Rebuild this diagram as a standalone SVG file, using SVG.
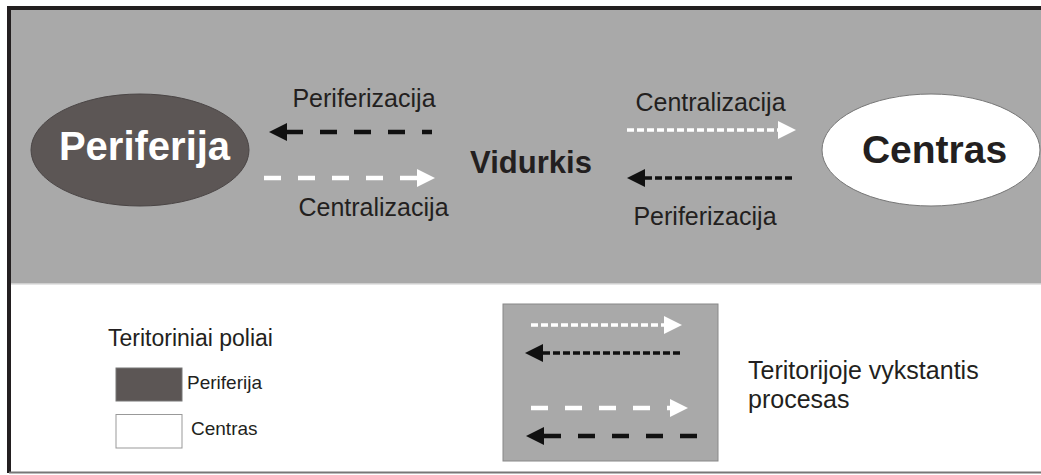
<svg xmlns="http://www.w3.org/2000/svg" width="1041" height="475" viewBox="0 0 1041 475">
<style>
.t{font-family:"Liberation Sans",Arial,sans-serif;fill:#231f20}
.b{font-weight:bold}
.ld{fill:none;stroke-width:4.5;stroke-dasharray:17 17}
.sd{fill:none;stroke-width:3.5;stroke-dasharray:7 3}
.k{stroke:#111}
.w{stroke:#fff}
</style>
<defs>
<marker id="hk" markerUnits="userSpaceOnUse" markerWidth="19" markerHeight="19" refX="0" refY="9" orient="auto" viewBox="0 0 19 19"><path d="M0,0 L18,9 L0,18 z" fill="#111"/></marker>
<marker id="hw" markerUnits="userSpaceOnUse" markerWidth="19" markerHeight="19" refX="0" refY="9" orient="auto" viewBox="0 0 19 19"><path d="M0,0 L18,9 L0,18 z" fill="#fff"/></marker>
</defs>
<rect x="0" y="0" width="1041" height="475" fill="#fff"/>
<g id="background">
<rect x="9" y="8" width="1032" height="276" fill="#a9a9a9"/>
<line x1="9" y1="284" x2="1041" y2="284" stroke="#ddd" stroke-width="1.5"/>
<line x1="7" y1="8" x2="1041" y2="8" stroke="#231f20" stroke-width="4"/>
<line x1="9" y1="6" x2="9" y2="473" stroke="#231f20" stroke-width="4"/>
<line x1="9" y1="472.5" x2="1041" y2="472.5" stroke="#777" stroke-width="2"/>
</g>
<g id="node-periferija">
<ellipse cx="140" cy="150" rx="109" ry="56" fill="#5c5655" stroke="#4a4545" stroke-width="1"/>
<text class="t b" x="144.5" y="160" font-size="40" text-anchor="middle" style="fill:#fff">Periferija</text>
</g>
<g id="node-centras">
<ellipse cx="931" cy="150" rx="109" ry="56" fill="#fff" stroke="#777" stroke-width="1"/>
<text class="t b" x="934.5" y="163" font-size="39" text-anchor="middle">Centras</text>
</g>
<g id="node-vidurkis">
<text class="t b" x="531" y="173" font-size="31" text-anchor="middle">Vidurkis</text>
</g>
<g id="connectors">
<path class="ld k" d="M432 132 H287" stroke-dashoffset="7" marker-end="url(#hk)"/>
<path class="ld w" d="M264 178 H417" marker-end="url(#hw)"/>
<path class="sd w" d="M627 130 H778" marker-end="url(#hw)"/>
<path class="sd k" d="M792 178 H645" marker-end="url(#hk)"/>
<text class="t" x="364" y="107" font-size="25" text-anchor="middle">Periferizacija</text>
<text class="t" x="373.5" y="215.5" font-size="25" text-anchor="middle">Centralizacija</text>
<text class="t" x="710.5" y="110.5" font-size="25" text-anchor="middle">Centralizacija</text>
<text class="t" x="705" y="225" font-size="25" text-anchor="middle">Periferizacija</text>
</g>
<g id="legend-poles">
<text class="t" x="108" y="345.5" font-size="23">Teritoriniai poliai</text>
<rect x="116" y="368" width="66" height="33" fill="#5c5655" stroke="#777" stroke-width="1"/>
<text class="t" x="187" y="388.5" font-size="19">Periferija</text>
<rect x="116" y="414.5" width="66" height="33.5" fill="#fff" stroke="#999" stroke-width="1"/>
<text class="t" x="191" y="435" font-size="19">Centras</text>
</g>
<g id="legend-process">
<rect x="503" y="304" width="215" height="157" fill="#a9a9a9" stroke="#888" stroke-width="1"/>
<path class="sd w" d="M531 325 H664" marker-end="url(#hw)"/>
<path class="sd k" d="M680 353 H543" marker-end="url(#hk)"/>
<path class="ld w" d="M531 408 H670" marker-end="url(#hw)"/>
<path class="ld k" d="M697 436 H544" stroke-dashoffset="0" marker-end="url(#hk)"/>
<text class="t" x="748" y="379" font-size="25">Teritorijoje vykstantis</text>
<text class="t" x="748" y="408" font-size="25">procesas</text>
</g>
</svg>
